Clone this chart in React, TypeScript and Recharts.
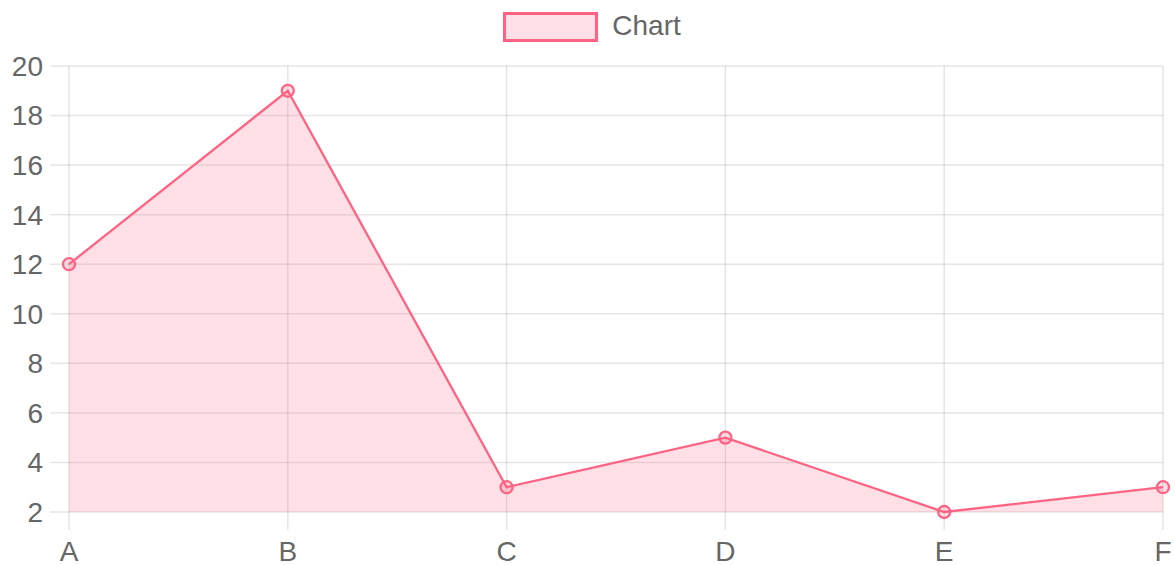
import { AreaChart, Area, XAxis, YAxis, CartesianGrid, Legend } from "recharts";

const categories = ["A", "B", "C", "D", "E", "F"];
const values = [12, 19, 3, 5, 2, 3];
const yTicks = [2, 4, 6, 8, 10, 12, 14, 16, 18, 20];
const seriesName = "Chart";

const data = categories.map((c, i) => ({ name: c, value: values[i] }));

const PINK = "rgb(255, 99, 132)";
const PINK_FILL = "rgba(255, 99, 132, 0.2)";
const GRID = "rgba(0, 0, 0, 0.1)";
const FONT = "'Liberation Sans', Arial, Helvetica, sans-serif";

const LegendBox = () => (
    <div
        style={{
            height: 50,
            display: "flex",
            justifyContent: "center",
            alignItems: "flex-start",
            paddingTop: 12,
            paddingLeft: 9,
            boxSizing: "border-box",
        }}
    >
        <div
            style={{
                width: 95,
                height: 30,
                boxSizing: "border-box",
                border: `3px solid ${PINK}`,
                background: PINK_FILL,
                marginRight: 14,
            }}
        />
        <span style={{ fontFamily: FONT, fontSize: 28, color: "#666", lineHeight: "28px" }}>
            {seriesName}
        </span>
    </div>
);

export default function App() {
    return (
        <div style={{ position: "absolute", left: 0, top: 0, background: "#fff" }}>
            <AreaChart
                width={1175}
                height={565}
                data={data}
                margin={{ top: 16, right: 12, left: 0, bottom: 0 }}
            >
                <Legend
                    verticalAlign="top"
                    content={() => <LegendBox />}
                    wrapperStyle={{ top: 0, left: 0, width: 1175 }}
                />
                <CartesianGrid stroke={GRID} strokeWidth={1.5} />
                <XAxis
                    dataKey="name"
                    height={53}
                    axisLine={false}
                    tickSize={18}
                    tickMargin={11}
                    tickLine={{ stroke: GRID, strokeWidth: 1.5 }}
                    tick={{ fill: "#666", fontSize: 28, fontFamily: FONT }}
                    interval={0}
                />
                <YAxis
                    width={69}
                    domain={[2, 20]}
                    ticks={yTicks}
                    axisLine={false}
                    tickSize={19}
                    tickMargin={7}
                    tickLine={{ stroke: GRID, strokeWidth: 1.5 }}
                    tick={{ fill: "#666", fontSize: 28, fontFamily: FONT }}
                    interval={0}
                />
                <Area
                    type="linear"
                    dataKey="value"
                    name={seriesName}
                    stroke={PINK}
                    strokeWidth={2.3}
                    fill={PINK}
                    fillOpacity={0.2}
                    dot={{ r: 6, stroke: PINK, strokeWidth: 2.3, fill: PINK_FILL, fillOpacity: 1 }}
                    activeDot={false}
                    isAnimationActive={false}
                />
            </AreaChart>
        </div>
    );
}
